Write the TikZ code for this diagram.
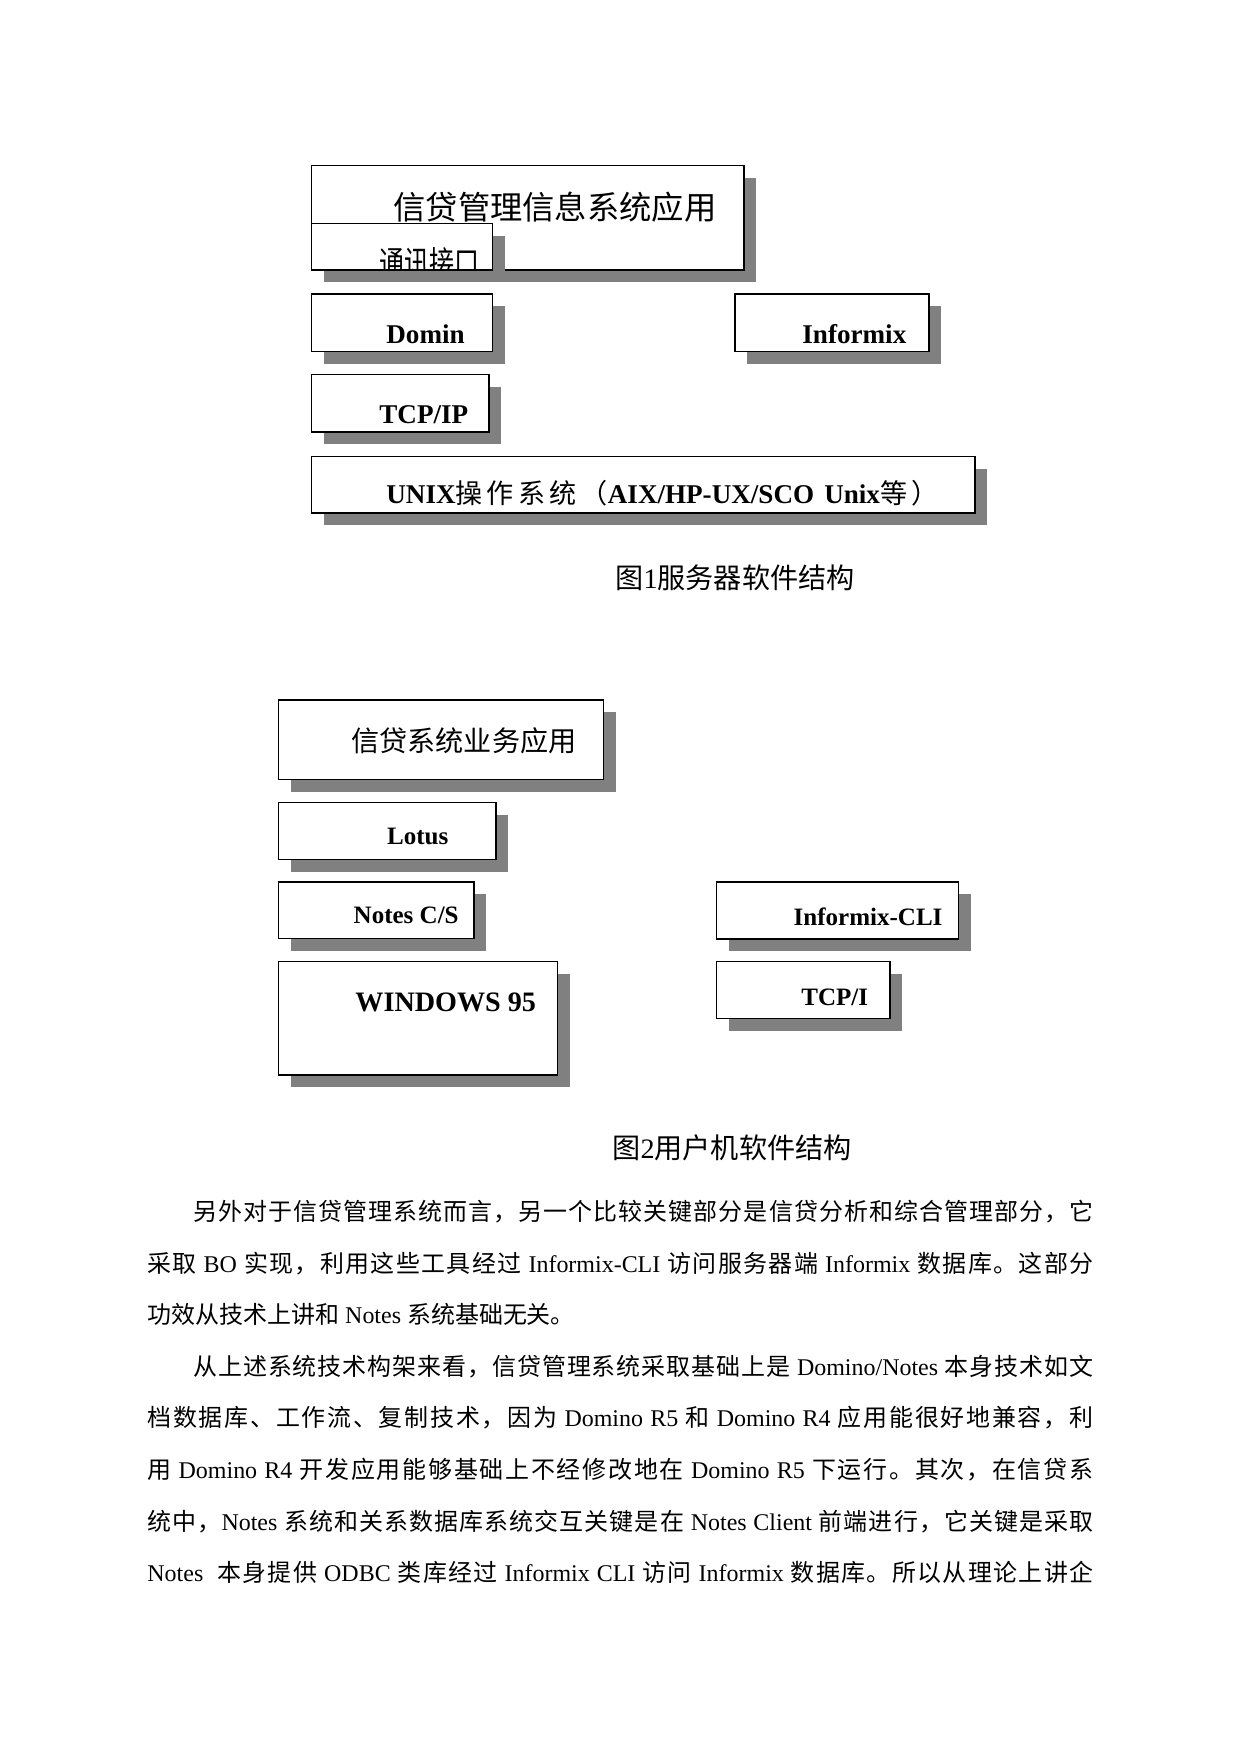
\documentclass[tikz,border=0pt]{standalone}
\usepackage{fontspec}
\usepackage{graphicx}
\usepackage{tikz}
\setmainfont{Liberation Serif}
\newfontfamily\cjk[BoldFont={Noto Sans CJK SC}]{Noto Sans CJK SC}

% switch to the CJK font for Chinese characters
\XeTeXinterchartokenstate=1
\newcount\cjkcnt
\def\setcjkrange#1#2{\cjkcnt=#1 \loop \XeTeXcharclass\cjkcnt=7 \advance\cjkcnt by 1 \ifnum\cjkcnt<#2 \repeat}
\setcjkrange{"3000}{"3040}
\setcjkrange{"4E00}{"A000}
\setcjkrange{"FF00}{"FFF0}
\XeTeXinterchartoks 4095 7 = {\cjk}
\XeTeXinterchartoks 0 7 = {\cjk}
\XeTeXinterchartoks 7 0 = {\rmfamily}
\XeTeXinterchartoks 7 4095 = {\rmfamily}
\XeTeXinterchartoks 7 7 = {\hskip 0pt plus 2pt}

\begin{document}
\begin{tikzpicture}[x=0.4797pt,y=-0.4797pt,
  box/.style={draw=black,fill=white,line width=0.7pt},
  boxshadow/.style={fill=gray},
  lbl/.style={inner sep=0pt,anchor=base west,font=\bfseries\fontsize{13}{15}\selectfont},
  small/.style={font=\bfseries\fontsize{12}{14}\selectfont},
  body/.style={inner sep=0pt,anchor=base west,font=\fontsize{11.5}{14}\selectfont}]
\useasboundingbox (0,0) rectangle (1241,1754);
% Boxes with shadows
\foreach \xa/\ya/\xb/\yb in
  {311.5/165.5/744/270, 311.5/223.5/492.5/270, 311.5/294/492.5/351.5, 735/294/929/351.5,
   311.5/374.5/489/432, 311.5/456.5/975/513,
   278.5/700/603.5/779.5, 278.5/802.5/496/859.5, 278.5/882/474/938.5, 278.5/961.5/557.5/1075,
   716.5/882/958.5/939, 716.5/961.5/890/1018.5}
{
  \fill[boxshadow] (\xa+12,\ya+12) rectangle (\xb+12,\yb+12);
  \draw[box] (\xa,\ya) rectangle (\xb,\yb);
}
% Figure 1 labels
\node[lbl,font=\fontsize{15.5}{18}\selectfont] (srvapp) at (393,219.5) {信贷管理信息系统应用};
\begin{scope}
\clip (312,224) rectangle (492,269.2);
\node[lbl,font=\fontsize{16}{18}\selectfont] (comm) at (379,275) {\scalebox{0.75}[1]{通讯接口}};
\end{scope}
\node[lbl] (domin) at (386,343.3) {Domin};
\node[lbl] (informix) at (802,343.3) {Informix};
\node[lbl] (tcpip) at (379,423.3) {TCP/IP};
\node[lbl] (unix) at (386,503.3) {\makebox[264.8pt][s]{UNIX操作系统（AIX/HP-UX/SCO Unix等）}};
\node[lbl,font=\fontsize{13.5}{16}\selectfont] (cap1) at (615,588) {图1服务器软件结构};
% Figure 2 labels
\node[lbl,font=\fontsize{13.5}{16}\selectfont] (cliapp) at (351,751.3) {信贷系统业务应用};
\node[lbl,small] (lotus) at (386.7,844.3) {Lotus};
\node[lbl,small] (notes) at (353.3,923.3) {Notes C/S};
\node[lbl,font=\bfseries\fontsize{13.5}{16}\selectfont] (win) at (355,1011.7) {WINDOWS 95};
\node[lbl,small] (infcli) at (793.3,925) {Informix-CLI};
\node[lbl,small] (tcpi) at (801,1005) {TCP/I};
\node[lbl,font=\fontsize{13.5}{16}\selectfont] (cap2) at (612,1158) {图2用户机软件结构};
% Body text
\node[body] (line1) at (147,1220.5) {\makebox[453.8pt][s]{\hspace*{22pt}另外对于信贷管理系统而言，另一个比较关键部分是信贷分析和综合管理部分，它}};
\node[body] (line2) at (147,1272.1) {\makebox[453.8pt][s]{采取 BO 实现，利用这些工具经过 Informix-CLI 访问服务器端 Informix 数据库。这部分}};
\node[body] (line3) at (147,1323.7) {功效从技术上讲和 Notes 系统基础无关。};
\node[body] (line4) at (147,1375.3) {\makebox[453.8pt][s]{\hspace*{22pt}从上述系统技术构架来看，信贷管理系统采取基础上是 Domino/Notes 本身技术如文}};
\node[body] (line5) at (147,1426.9) {\makebox[453.8pt][s]{档数据库、工作流、复制技术，因为 Domino R5 和 Domino R4 应用能很好地兼容，利}};
\node[body] (line6) at (147,1478.5) {\makebox[453.8pt][s]{用 Domino R4 开发应用能够基础上不经修改地在 Domino R5 下运行。其次，在信贷系}};
\node[body] (line7) at (147,1530.1) {\makebox[453.8pt][s]{统中，Notes 系统和关系数据库系统交互关键是在 Notes Client 前端进行，它关键是采取}};
\node[body] (line8) at (147,1581.7) {\makebox[453.8pt][s]{Notes~ 本身提供 ODBC 类库经过 Informix CLI 访问 Informix 数据库。所以从理论上讲企}};
\end{tikzpicture}
\end{document}
